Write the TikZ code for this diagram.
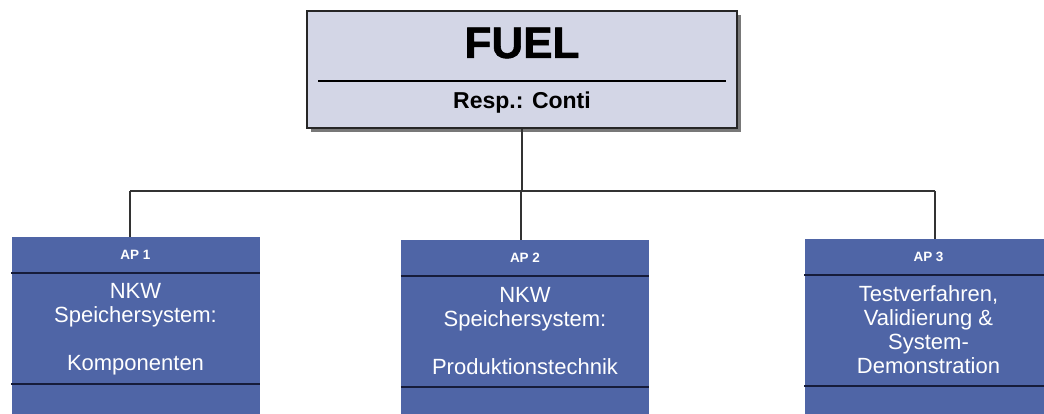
\documentclass[tikz,border=0pt]{standalone}
\usepackage{fontspec}
\setmainfont{Liberation Sans}
\newfontface\heavyface[FakeBold=1.3]{Liberation Sans Bold}
\definecolor{apblue}{RGB}{79,101,166}
\definecolor{headfill}{RGB}{211,214,230}
\definecolor{rulenavy}{RGB}{22,28,58}
\definecolor{shadowgray}{RGB}{120,120,120}
\tikzset{
  headbox/.style={draw=black!85, line width=1.2pt, fill=headfill, inner sep=0pt,
    minimum width=430pt, minimum height=117pt},
  apbox/.style={fill=apblue, inner sep=0pt, minimum width=248pt, minimum height=193pt},
  aplabel/.style={text=white, font=\bfseries\fontsize{13.5}{15}\selectfont},
  aptext/.style={text=white, align=center, font=\fontsize{22}{24}\selectfont, inner sep=0pt},
  divider/.style={draw=rulenavy, line width=1.6pt},
  link/.style={draw=black!80, line width=1.2pt}
}
\begin{document}
\begin{tikzpicture}[x=1pt,y=-1pt]
\clip (0,0) rectangle (1044,414);
\fill[white] (0,0) rectangle (1044,414);

% project box with drop shadow
\fill[shadowgray] (311,15) rectangle (741,132);
\node[headbox] (fuel) at (522,69.5) {};
\draw[black, line width=1.2pt] (318,81) -- (726,81);
\node[font=\heavyface\fontsize{44}{44}\selectfont] (title) at (522,43) {FUEL};
\node[font=\bfseries\fontsize{23}{24}\selectfont] (resp) at (522,103) {Resp.: Conti};

% work packages
\node[apbox] (ap1) at (135.5,333.5) {};
\node[apbox] (ap2) at (525,336.5) {};
\node[apbox] (ap3) at (928.5,335.5) {};

\foreach \b in {ap1,ap2,ap3}{
  \draw[divider] ([yshift=-36pt]\b.north west) -- ([yshift=-36pt]\b.north east);
  \draw[divider] ([yshift=-147pt]\b.north west) -- ([yshift=-147pt]\b.north east);
}

\node[aplabel] (ap1h) at ([yshift=-18pt]ap1.north) {AP 1};
\node[aplabel] (ap2h) at ([yshift=-18pt]ap2.north) {AP 2};
\node[aplabel] (ap3h) at ([yshift=-18pt]ap3.north) {AP 3};

\node[aptext] (ap1t) at (135.5,329) {NKW\\Speichersystem:\\\mbox{}\\Komponenten};
\node[aptext] (ap2t) at (525,331) {NKW\\Speichersystem:\\\mbox{}\\Produktionstechnik};
\node[aptext] (ap3t) at (928.5,330) {Testverfahren,\\Validierung \&\\System-\\Demonstration};

% tree connectors
\coordinate (bus) at (522,191);
\coordinate (busL) at (130,191);
\coordinate (busR) at (935,191);
\draw[link] (fuel.south) -- (bus);
\draw[link] (busL) -- (busR);
\draw[link] (busL) -- (busL |- ap1.north);
\draw[link] ([xshift=-1pt]bus) -- ([xshift=-1pt]bus |- ap2.north);
\draw[link] (busR) -- (busR |- ap3.north);
\end{tikzpicture}
\end{document}
